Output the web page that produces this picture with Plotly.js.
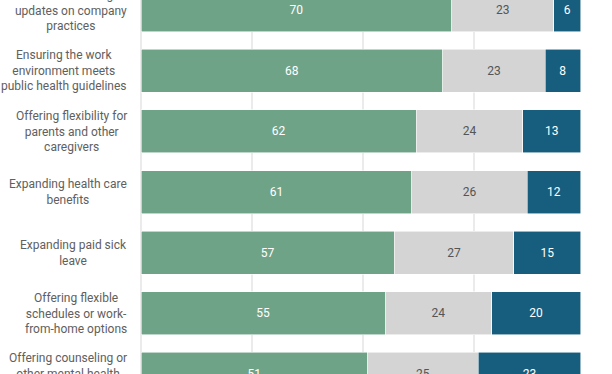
<!DOCTYPE html>
<html>
<head>
<meta charset="utf-8">
<script src="https://cdn.plot.ly/plotly-3.0.1.min.js"></script>
<style>html,body{margin:0;padding:0;background:#fff;}#chart{width:612px;height:374px;}</style>
</head>
<body>
<div id="chart"></div>
<script>
const categories = [
  "Communicating<br>updates on company<br>practices",
  "Ensuring the work<br>environment meets<br>public health guidelines",
  "Offering flexibility for<br>parents and other<br>caregivers",
  "Expanding health care<br>benefits",
  "Expanding paid sick<br>leave",
  "Offering flexible<br>schedules or work-<br>from-home options",
  "Offering counseling or<br>other mental health<br>resources"
];
const greenValues = [70, 68, 62, 61, 57, 55, 51];
const grayValues  = [23, 23, 24, 26, 27, 24, 25];
const blueValues  = [6, 8, 13, 12, 15, 20, 23];

const ids = categories.map((c, i) => "c" + i);

function mk(vals, color, txtColor) {
  return {
    type: "bar", orientation: "h",
    y: ids, x: vals,
    marker: {color: color, line: {color: "rgba(255,255,255,0.8)", width: 0.7}},
    text: vals.map(String),
    textposition: "inside",
    insidetextanchor: "middle",
    textfont: {color: txtColor, size: 12, family: "Roboto, sans-serif"},
    hoverinfo: "none",
    cliponaxis: true
  };
}

const data = [
  mk(greenValues, "#6fa388", "#ffffff"),
  mk(grayValues, "#d4d4d4", "#555555"),
  mk(blueValues, "#175e7e", "#ffffff")
];

const annotations = categories.map((c, i) => ({
  xref: "paper", yref: "y",
  x: -0.027, y: ids[i],
  xanchor: "right", yanchor: "middle",
  text: c, showarrow: false, align: "center",
  font: {family: "Roboto, sans-serif", size: 12, color: "#606060"}
}));

const layout = {
  width: 612, height: 374,
  margin: {l: 141, r: 27, t: 0, b: 0, pad: 0},
  barmode: "stack",
  bargap: 0.29,
  showlegend: false,
  paper_bgcolor: "#ffffff",
  plot_bgcolor: "#ffffff",
  xaxis: {
    range: [0, 100], dtick: 25, tick0: 0,
    showgrid: true, gridcolor: "#ebebeb", gridwidth: 1.5,
    zeroline: true, zerolinecolor: "#ebebeb", zerolinewidth: 2.5,
    showticklabels: false, ticks: "", fixedrange: true
  },
  yaxis: {
    type: "category",
    range: [6.005, -0.17],
    showticklabels: false, ticks: "", showgrid: false, zeroline: false,
    fixedrange: true
  },
  annotations: annotations,
  font: {family: "Roboto, sans-serif"}
};

Plotly.newPlot("chart", data, layout, {displayModeBar: false, staticPlot: true});
</script>
</body>
</html>
